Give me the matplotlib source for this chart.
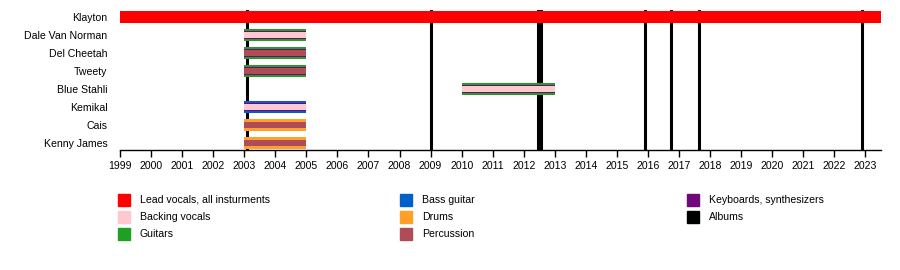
import matplotlib
matplotlib.use("Agg")
import matplotlib.pyplot as plt
from matplotlib.patches import Rectangle

plt.rcParams['font.family'] = ['Liberation Sans', 'DejaVu Sans']

# band members, top to bottom
members = ["Klayton", "Dale Van Norman", "Del Cheetah", "Tweety",
           "Blue Stahli", "Kemikal", "Cais", "Kenny James"]
starts = [1999, 2003, 2003, 2003, 2010, 2003, 2003, 2003]
ends = [2023.5, 2005, 2005, 2005, 2013, 2005, 2005, 2005]

# roles: main (full bar), second (narrower), third (narrowest)
main_role = ["lead", "guitars", "guitars", "guitars", "guitars", "bass", "drums", "drums"]
second_role = [None, "keys", "keys", "keys", "keys", "keys", None, None]
third_role = [None, "backing", "perc", "perc", "backing", "backing", "perc", "perc"]

albums = [2003.1, 2009.0, 2012.47, 2012.56, 2015.9, 2016.75, 2017.65, 2022.88]

colors = {
    "lead": "#ff0000",
    "backing": "#ffc8d0",
    "guitars": "#1fa020",
    "bass": "#0060c8",
    "drums": "#ffa028",
    "perc": "#b04c58",
    "keys": "#70087a",
    "albums": "#000000",
}

legend_items = [
    ("lead", "Lead vocals, all insturments"),
    ("backing", "Backing vocals"),
    ("guitars", "Guitars"),
    ("bass", "Bass guitar"),
    ("drums", "Drums"),
    ("perc", "Percussion"),
    ("keys", "Keyboards, synthesizers"),
    ("albums", "Albums"),
]

fig = plt.figure(figsize=(9, 2.7), dpi=100)
ax = fig.add_axes([120 / 900, 1 - 150 / 270, 761 / 900, 140 / 270])

# one row = 18 px, bars 12 / 8 / 6 px tall
ys = list(range(len(members)))
for y, s, e, m, sec, th in zip(ys, starts, ends, main_role, second_role, third_role):
    ax.barh(y, e - s, left=s, height=12 / 18, color=colors[m], linewidth=0, zorder=3)
    if sec:
        ax.barh(y, e - s, left=s, height=8 / 18, color=colors[sec], linewidth=0, zorder=4)
    if th:
        ax.barh(y, e - s, left=s, height=6 / 18, color=colors[th], linewidth=0, zorder=5)

for a in albums:
    ax.axvline(a, color=colors["albums"], linewidth=2.2, zorder=2)

ax.set_xlim(1999, 2023.5)
ax.set_ylim(len(members) - 1 + 7 / 18, -7 / 18)
ax.set_yticks(ys)
ax.set_yticklabels(members, fontsize=7.6)
ax.tick_params(axis='y', length=0, pad=9)
ax.set_xticks(range(1999, 2024))
ax.set_xticklabels([str(v) for v in range(1999, 2024)], fontsize=7.6)
ax.tick_params(axis='x', length=5, width=1, pad=3)
for side in ["left", "right", "top"]:
    ax.spines[side].set_visible(False)
ax.spines["bottom"].set_linewidth(1)

# legend in three columns
col_x = [118, 400, 687]
row_y = [200, 217, 234]
for i, (key, label) in enumerate(legend_items):
    cx = col_x[i // 3]
    cy = row_y[i % 3]
    fig.patches.append(Rectangle((cx / 900, 1 - (cy + 6) / 270), 12 / 900, 12 / 270,
                                 transform=fig.transFigure, color=colors[key]))
    fig.text((cx + 22) / 900, 1 - cy / 270, label, fontsize=7.6, va='center', ha='left')

fig.savefig("out.png", dpi=100)
